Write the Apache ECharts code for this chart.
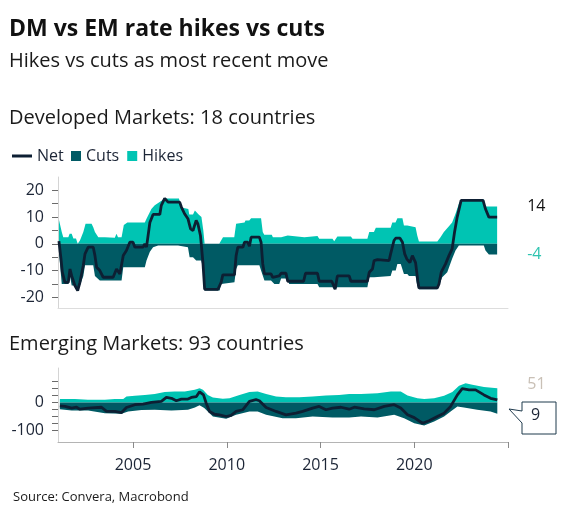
<!DOCTYPE html>
<html>
<head>
<meta charset="utf-8">
<script src="https://cdn.jsdelivr.net/npm/echarts@6/dist/echarts.min.js"></script>
<style>
  html, body { margin: 0; padding: 0; background: #fff; }
  #chart { width: 567px; height: 520px; }
</style>
</head>
<body>
<div id="chart"></div>
<script>
// Developed markets (18 countries): [decimal year, count]
const dmHikes = [
  [2001.05, 9], [2001.2, 4.4], [2001.28, 2.5], [2001.55, 2.5], [2001.62, 3.75], [2001.73, 3.75],
  [2001.82, 2], [2001.96, 2], [2002.05, 0], [2002.17, 1.25], [2002.35, 4.4], [2002.47, 7.5],
  [2002.79, 7.5], [2002.88, 6.25], [2002.97, 4.4], [2003.15, 2.5], [2003.5, 2.5], [2003.59, 2.25],
  [2004.03, 2.25], [2004.12, 3.75], [2004.2, 2.5], [2004.39, 2.5], [2004.51, 7], [2004.7, 8],
  [2005.63, 8], [2005.72, 9.4], [2005.98, 13], [2006.16, 14.4], [2006.5, 16], [2006.7, 17],
  [2007.45, 17], [2007.5, 15.6], [2007.6, 15.6], [2007.65, 13.5], [2007.95, 13], [2008.0, 11],
  [2008.2, 11], [2008.3, 12.5], [2008.5, 11], [2008.65, 10], [2008.75, 5], [2008.82, 0],
  [2009.6, 0], [2009.7, 1.25], [2009.8, 2.5], [2010.4, 2.5], [2010.5, 7.5], [2010.6, 8],
  [2010.95, 8], [2011.0, 8.75], [2011.2, 8.75], [2011.3, 9.6], [2011.83, 9.6], [2011.92, 4.4],
  [2012.0, 3.4], [2012.4, 3.4], [2012.46, 2.5], [2012.9, 2.5], [2012.98, 3.1], [2013.25, 3.1],
  [2013.33, 2.5], [2014.14, 2.5], [2014.22, 2.9], [2014.84, 2.9], [2014.93, 1.9], [2015.64, 1.9],
  [2015.73, 1], [2015.9, 2.75], [2016.62, 2.75], [2016.71, 1.9], [2017.5, 1.9], [2017.6, 4.4],
  [2017.85, 4.4], [2017.95, 6], [2018.74, 6], [2018.83, 8], [2019.0, 8], [2019.1, 9.6],
  [2019.37, 9.6], [2019.45, 6.9], [2019.63, 6.9], [2019.72, 6.25], [2020.07, 6.25], [2020.16, 3.1],
  [2020.25, 0.9], [2021.23, 0.9], [2021.4, 2.5], [2021.58, 4.4], [2021.85, 6.6], [2022.02, 8],
  [2022.2, 11.25], [2022.38, 15], [2022.5, 16.6], [2023.71, 16.6], [2023.8, 14], [2024.42, 14]
];
const dmCuts = [
  [2001.05, -3], [2001.2, -15], [2001.55, -15], [2001.64, -12], [2001.73, -15.6], [2001.9, -15.6],
  [2002.05, -17.5], [2002.17, -15.6], [2002.35, -12], [2002.44, -8], [2002.88, -8], [2002.97, -12],
  [2003.23, -13.75], [2004.39, -13.75], [2004.48, -8.75], [2005.63, -8.75], [2005.72, -6.25],
  [2005.9, -3], [2006.07, -1.25], [2006.34, -0.6], [2007.4, -0.6], [2007.49, -1.25], [2007.93, -1.25],
  [2008.02, -5], [2008.2, -5], [2008.37, -6.25], [2008.64, -6.25], [2008.73, -9], [2008.82, -17.5],
  [2009.62, -17.5], [2009.7, -15], [2009.79, -14.4], [2010.41, -14.4], [2010.5, -9.4], [2010.59, -8],
  [2011.74, -8], [2011.83, -10], [2012.01, -13.75], [2012.36, -13.75], [2012.54, -15], [2012.8, -15],
  [2012.9, -13], [2013.25, -13], [2013.33, -15], [2014.84, -15], [2014.93, -16.25], [2015.64, -16.25],
  [2015.73, -17], [2015.9, -16.25], [2017.5, -16.25], [2017.6, -12.5], [2017.86, -12.5], [2017.95, -12],
  [2018.74, -12], [2018.83, -10], [2019.01, -10], [2019.1, -7.5], [2019.28, -7.5], [2019.45, -11.25],
  [2019.63, -11.25], [2019.72, -12], [2020.07, -12], [2020.16, -15.6], [2020.25, -17], [2021.23, -17],
  [2021.32, -15.6], [2021.49, -12.5], [2021.76, -10.6], [2022.02, -5.6], [2022.2, -2.5], [2022.38, -0.6],
  [2023.71, -0.6], [2023.8, -2.5], [2023.98, -4], [2024.42, -4]
];
const dmNet = [
  [2001.05, 1], [2001.16, -5.6], [2001.23, -10.6], [2001.37, -14.4], [2001.55, -14.4], [2001.64, -9.4],
  [2001.73, -12], [2001.9, -15.6], [2002.05, -17.5], [2002.17, -14.4], [2002.35, -8], [2002.44, -3.75],
  [2002.61, -1.25], [2002.88, -1.25], [2002.97, -4.4], [2003.06, -8.75], [2003.23, -10], [2003.41, -12.5],
  [2003.94, -12.5], [2004.12, -9.4], [2004.3, -11.25], [2004.48, -4.4], [2004.65, -2.5], [2004.83, 0.6],
  [2005.0, 0.6], [2005.1, -1.25], [2005.54, -1.25], [2005.63, 0], [2005.72, -1.25], [2005.9, 8],
  [2006.07, 11], [2006.43, 11], [2006.51, 14.4], [2006.69, 17], [2006.87, 15.6], [2007.49, 15.6],
  [2007.58, 13.75], [2007.75, 11.25], [2007.93, 9.4], [2008.07, 5.6], [2008.2, 5], [2008.37, 8.75],
  [2008.46, 7.5], [2008.6, 3], [2008.73, -7], [2008.82, -17], [2009.53, -17], [2009.7, -14.4],
  [2009.79, -11.6], [2010.41, -11.6], [2010.5, -4.4], [2010.59, -1.25], [2010.86, -1.25], [2010.95, 0.6],
  [2011.12, 0.6], [2011.21, -0.9], [2011.3, 2.5], [2011.74, 2.5], [2011.83, 0.6], [2011.92, -7.5],
  [2012.01, -11.25], [2012.36, -11.25], [2012.45, -12.5], [2012.54, -12], [2012.8, -12], [2012.9, -11],
  [2013.16, -11], [2013.25, -14], [2014.1, -14], [2014.2, -11], [2014.84, -11], [2014.93, -14],
  [2015.6, -14], [2015.7, -15.6], [2015.78, -17], [2015.9, -12], [2016.53, -12], [2016.62, -14],
  [2017.5, -14], [2017.6, -10.6], [2017.77, -9.4], [2017.86, -6.25], [2018.04, -5.9], [2018.66, -6.25],
  [2018.74, -3.75], [2018.92, 1.25], [2019.01, 2.1], [2019.24, 2.1], [2019.37, 0.6], [2019.49, -3.75],
  [2019.6, -5.6], [2019.77, -7], [2019.9, -4.4], [2019.99, -5], [2020.07, -7], [2020.2, -14.4],
  [2020.25, -16.5], [2021.23, -16.5], [2021.32, -15], [2021.44, -10.6], [2021.67, -7.5], [2021.85, -4.4],
  [2022.02, -1.9], [2022.15, 4.4], [2022.29, 10], [2022.5, 16.25], [2023.67, 16.25], [2023.8, 13],
  [2023.98, 10], [2024.42, 10]
];

// Emerging markets (93 countries)
const emHikes = [
  [2001.1, 12], [2001.9, 12], [2002.6, 10], [2003.5, 10], [2004.03, 12], [2004.48, 12], [2004.65, 21],
  [2005.1, 24], [2005.63, 27], [2006.16, 30], [2006.69, 37], [2007.22, 39], [2007.76, 39], [2008.29, 45],
  [2008.55, 51], [2008.73, 45], [2008.99, 27], [2009.26, 18], [2009.79, 13], [2010.15, 15], [2010.68, 27],
  [2011.21, 37], [2011.65, 39], [2012.1, 30], [2012.63, 21], [2013.16, 19], [2013.87, 19], [2014.58, 21],
  [2015.29, 25], [2015.99, 27], [2016.53, 30], [2017.16, 30], [2018.04, 33], [2018.75, 39], [2019.28, 39],
  [2019.64, 25], [2020.17, 15], [2020.53, 12], [2021.06, 15], [2021.59, 24], [2022.03, 37], [2022.39, 60],
  [2022.74, 69], [2023.1, 63], [2023.72, 55], [2024.43, 51]
];
const emCuts = [
  [2001.1, -24], [2001.73, -29], [2002.61, -29], [2003.5, -38], [2004.39, -40], [2004.74, -32],
  [2005.45, -27], [2006.16, -26], [2007.05, -29], [2007.93, -26], [2008.3, -18], [2008.55, -10],
  [2008.8, -20], [2008.9, -26], [2009.26, -50], [2009.97, -58], [2010.5, -44], [2011.21, -32],
  [2011.65, -32], [2012.1, -44], [2012.98, -56], [2013.69, -56], [2014.58, -50], [2015.64, -54],
  [2016.53, -54], [2017.16, -50], [2018.04, -54], [2018.93, -44], [2019.46, -56], [2020.0, -74],
  [2020.53, -82], [2021.06, -68], [2021.59, -50], [2021.94, -32], [2022.3, -14], [2022.65, -18],
  [2023.36, -26], [2024.07, -32], [2024.43, -40]
];
const emNet = [
  [2001.1, -12], [2001.37, -14], [2001.73, -20], [2001.99, -17], [2002.17, -24], [2002.61, -20],
  [2003.32, -17], [2003.59, -32], [2004.03, -32], [2004.39, -36], [2004.65, -18], [2005.1, -8],
  [2005.54, -6], [2005.98, 0], [2006.51, 4], [2006.78, 18], [2007.05, 15], [2007.31, 6], [2007.58, 12],
  [2007.93, 12], [2008.11, 18], [2008.38, 21], [2008.55, 38], [2008.76, 27], [2008.9, -2], [2009.08, -32],
  [2009.35, -42], [2009.61, -44], [2009.97, -50], [2010.23, -46], [2010.5, -32], [2010.85, -26],
  [2011.21, 4], [2011.56, 10], [2011.74, 6], [2012.1, -18], [2012.63, -32], [2013.16, -44], [2013.69, -38],
  [2014.05, -32], [2014.58, -20], [2014.93, -14], [2015.29, -26], [2015.64, -20], [2016.09, -17],
  [2016.53, -24], [2016.8, -17], [2017.33, -23], [2017.87, -26], [2018.4, -14], [2018.93, -8],
  [2019.28, -20], [2019.64, -44], [2020.0, -54], [2020.44, -74], [2020.79, -65], [2021.23, -50],
  [2021.59, -38], [2021.94, -14], [2022.3, 27], [2022.56, 49], [2022.92, 45], [2023.27, 45], [2023.72, 27],
  [2024.07, 15], [2024.43, 9]
];

const yearTicks = [2005, 2010, 2015, 2020, 2025];
const yearLabels = [2005, 2010, 2015, 2020];
const dmTicks = [-20, -15, -10, -5, 0, 5, 10, 15, 20];
const dmLabels = [-20, -10, 0, 10, 20];
const emTicks = [-100, -75, -50, -25, 0, 25, 50, 75];
const emLabels = [-100, 0];

const FONT = '"Open Sans", "Noto Sans", sans-serif';
const TEXT = '#1c2536';
const C_NET = '#0d1f33';
const C_CUTS = '#005a64';
const C_HIKES = '#00c4b3';

const chart = echarts.init(document.getElementById('chart'), null, { renderer: 'canvas' });

function xAxisFor(gridIndex, labelled) {
  return {
    type: 'value', gridIndex: gridIndex, min: 2001, max: 2025,
    axisLine: { onZero: false, lineStyle: { color: labelled ? '#b4b4b4' : '#dddddd', width: 1 } },
    axisTick: { show: labelled, customValues: yearTicks, length: 6, lineStyle: { color: '#8a8a8a' } },
    axisLabel: { show: labelled, customValues: yearLabels, formatter: v => String(v),
      color: TEXT, fontSize: 16, fontFamily: FONT, margin: 15 },
    splitLine: { show: false }
  };
}

function yAxisFor(gridIndex, min, max, ticks, labels) {
  return {
    type: 'value', gridIndex: gridIndex, min: min, max: max,
    axisLine: { show: true, lineStyle: { color: '#d4d4d4' } },
    axisTick: { show: true, customValues: ticks, length: 6, lineStyle: { color: '#6b6b6b' } },
    axisLabel: { customValues: labels, formatter: v => String(v),
      color: TEXT, fontSize: 16, fontFamily: FONT, margin: 14 },
    splitLine: { show: false }
  };
}

function areaSeries(name, data, color, idx, label) {
  return {
    name: name, type: 'line', xAxisIndex: idx, yAxisIndex: idx, data: data,
    symbol: 'none', lineStyle: { width: 0, color: color }, itemStyle: { color: color },
    areaStyle: { color: color, opacity: 1 }, z: 2,
    endLabel: label ? Object.assign({ show: true, fontFamily: FONT, fontSize: 16, distance: 30,
      formatter: p => String(p.value[1]) }, label) : { show: false }
  };
}

function netSeries(data, idx) {
  return {
    name: 'Net', type: 'line', xAxisIndex: idx, yAxisIndex: idx, data: data,
    symbol: 'none', lineStyle: { width: 2.8, color: C_NET }, itemStyle: { color: C_NET }, z: 3
  };
}

const option = {
  animation: false,
  backgroundColor: '#fff',
  textStyle: { fontFamily: FONT },
  title: [
    { text: 'DM vs EM rate hikes vs cuts', left: 4, top: 13,
      textStyle: { fontSize: 23, fontWeight: 'bold', color: '#111', fontFamily: FONT } },
    { text: 'Hikes vs cuts as most recent move', left: 4, top: 46,
      textStyle: { fontSize: 20, fontWeight: 'normal', color: '#1a1a1a', fontFamily: FONT } },
    { text: 'Developed Markets: 18 countries', left: 4, top: 103,
      textStyle: { fontSize: 20, fontWeight: 'normal', color: '#1a1a1a', fontFamily: FONT } },
    { text: 'Emerging Markets: 93 countries', left: 4, top: 329,
      textStyle: { fontSize: 20, fontWeight: 'normal', color: '#1a1a1a', fontFamily: FONT } },
    { text: 'Source: Convera, Macrobond', left: 8, top: 486,
      textStyle: { fontSize: 13, fontWeight: 'normal', color: '#1a1a1a', fontFamily: FONT } }
  ],
  legend: [
    { left: 7, top: 143, itemWidth: 20, itemHeight: 3, itemGap: 10,
      data: [{ name: 'Net', icon: 'rect' }],
      textStyle: { color: TEXT, fontSize: 16, fontFamily: FONT } },
    { left: 66, top: 143, itemWidth: 10, itemHeight: 10, itemGap: 8,
      data: [{ name: 'Cuts', icon: 'rect' }, { name: 'Hikes', icon: 'rect' }],
      textStyle: { color: TEXT, fontSize: 16, fontFamily: FONT } }
  ],
  grid: [
    { left: 58, top: 177, width: 450, height: 131 },
    { left: 58, top: 368, width: 450, height: 74 }
  ],
  xAxis: [xAxisFor(0, false), xAxisFor(1, true)],
  yAxis: [
    yAxisFor(0, -24, 25, dmTicks, dmLabels),
    yAxisFor(1, -141, 123, emTicks, emLabels)
  ],
  series: [
    areaSeries('Hikes', dmHikes, C_HIKES, 0, { color: '#111' }),
    areaSeries('Cuts', dmCuts, C_CUTS, 0, { color: '#2ec4b0' }),
    netSeries(dmNet, 0),
    areaSeries('Hikes', emHikes, C_HIKES, 1, { color: '#c9c0b6', offset: [0, -4] }),
    areaSeries('Cuts', emCuts, C_CUTS, 1, null),
    netSeries(emNet, 1)
  ],
  graphic: [
    { type: 'polygon', z: 10,
      shape: { points: [[522, 402], [556, 402], [556, 434], [522, 434], [522, 423], [509, 409], [522, 411]] },
      style: { fill: '#fff', stroke: '#1f3a4d', lineWidth: 1 } },
    { type: 'text', z: 11, left: 531, top: 407,
      style: { text: String(emNet[emNet.length - 1][1]), fontSize: 16, fill: TEXT, fontFamily: FONT } }
  ]
};

chart.setOption(option);
window.addEventListener('resize', () => chart.resize());
</script>
</body>
</html>
